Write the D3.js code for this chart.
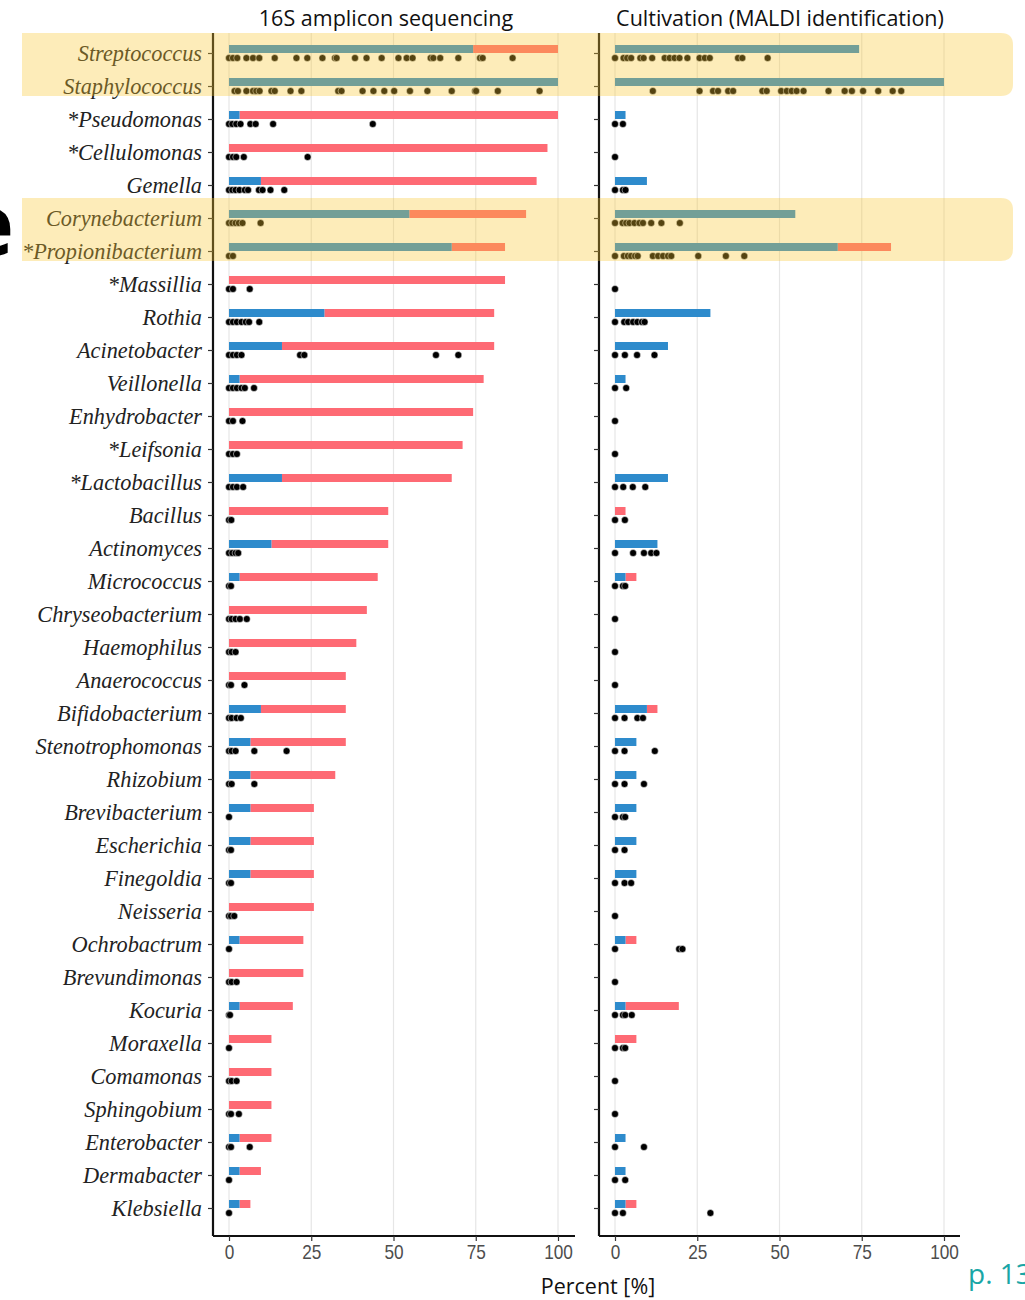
<!DOCTYPE html>
<html><head><meta charset="utf-8">
<script src="https://cdn.jsdelivr.net/npm/d3@7"></script>
<style>body{margin:0;background:#fff;} svg{display:block;}</style>
</head><body>
<script>
const categories = ["Streptococcus","Staphylococcus","*Pseudomonas","*Cellulomonas","Gemella","Corynebacterium","*Propionibacterium","*Massillia","Rothia","Acinetobacter","Veillonella","Enhydrobacter","*Leifsonia","*Lactobacillus","Bacillus","Actinomyces","Micrococcus","Chryseobacterium","Haemophilus","Anaerococcus","Bifidobacterium","Stenotrophomonas","Rhizobium","Brevibacterium","Escherichia","Finegoldia","Neisseria","Ochrobactrum","Brevundimonas","Kocuria","Moraxella","Comamonas","Sphingobium","Enterobacter","Dermabacter","Klebsiella"];
// shared detection (blue) and total detection per method, percent of samples
const bothPct   = [74.2,100,3.2,0,9.7,54.8,67.7,0,29.0,16.1,3.2,0,0,16.1,0,12.9,3.2,0,0,0,9.7,6.5,6.5,6.5,6.5,6.5,0,3.2,0,3.2,0,0,0,3.2,3.2,3.2];
const seqTotal  = [100,100,100,96.8,93.5,90.3,83.9,83.9,80.6,80.6,77.4,74.2,71.0,67.7,48.4,48.4,45.2,41.9,38.7,35.5,35.5,35.5,32.3,25.8,25.8,25.8,25.8,22.6,22.6,19.4,12.9,12.9,12.9,12.9,9.7,6.5];
const cultTotal = [74.2,100,3.2,0,9.7,54.8,83.9,0,29.0,16.1,3.2,0,0,16.1,3.2,12.9,6.5,0,0,0,12.9,6.5,6.5,6.5,6.5,6.5,0,6.5,0,19.4,6.5,0,0,3.2,3.2,6.5];
const seqDots = [
 [0,1.2,2.5,5.3,7.3,9.2,13.9,20.5,23.8,28.4,32.2,32.7,38.3,41.8,46.4,51.5,54,55.8,61.3,62.1,64.2,69.7,76.3,77.1,86.2],
 [1.7,2.7,5.3,7.3,8.3,9.3,12.9,13.9,18.7,22,33.2,34.2,40.6,43.9,47.2,50.2,55,60.3,67.7,74.8,75.1,81.7,94.4],
 [0,1,2.2,3.5,6.5,8.1,13.4,43.7],
 [0,1.2,2.2,4.5,23.9],
 [0,1,2,3.2,4.8,5.8,9.1,10.2,12.6,16.8],
 [0,1,2,3,4.1,9.6],
 [0,1.2],
 [0,1.2,6.3],
 [0,1.2,2.4,3.8,5.1,6.1,9.2],
 [0,1.2,2.4,3.8,21.6,22.9,62.9,69.7],
 [0,1.2,2.4,3.8,4.8,7.6],
 [0,1.2,4.1],
 [0,1.2,2.4],
 [0,1.2,2.4,4.3],
 [0,0.7],
 [0,1,2,2.8],
 [0,0.6],
 [0,0.8,2,3.3,5.4],
 [0,0.8,2],
 [0,0.6,4.7],
 [0,0.8,2.3,3.6],
 [0,0.8,2,7.7,17.5],
 [0,0.8,7.7],
 [0],
 [0,0.6],
 [0,0.6],
 [0,0.6,1.6],
 [0],
 [0,0.8,2.3],
 [0,0.3],
 [0],
 [0,0.8,2.3],
 [0,0.6,3],
 [0,0.6,6.3],
 [0],
 [0]
];
const cultDots = [
 [0,2.6,3.7,4.9,7.7,8.7,11.3,15.1,16.6,18.1,19.6,22,25.7,27.3,28.8,37.4,38.7,46.4],
 [11.5,25.7,29.8,31.3,34.4,35.9,44.8,46.1,50.5,52.2,53.7,55.2,57.3,64.9,69.8,72,75.4,80,84.4,87],
 [0,2.4],
 [0],
 [0,2.4,3.2],
 [0,2.3,3.4,4.4,5.9,7.4,8.5,11,14.1,19.7],
 [0,2.7,3.9,4.9,6.1,6.9,11.5,13.1,14.6,16.1,17.1,25.3,33.7,39.3],
 [0],
 [0,2.8,4,5.5,6.8,8.2,9],
 [0,3,6.7,12],
 [0,3.4],
 [0],
 [0],
 [0,2.5,5.4,9.2],
 [0,3],
 [0,5.5,8.8,11,12.6],
 [0,2.4,3.1],
 [0],[0],[0],
 [0,2.9,6.8,8.5],
 [0,2.9,12.1],
 [0,2.9,8.8],
 [0,2.4,3.1],
 [0,2.9],
 [0,2.9,4.9],
 [0],
 [0,19.5,20.5],
 [0],
 [0,2.4,3.1,5.1],
 [0,2.4,3.1],
 [0],[0],
 [0,8.8],
 [0,3.1],
 [0,2.4,29]
];
const xTicks = [0,25,50,75,100];
const panelTitles = ["16S amplicon sequencing","Cultivation (MALDI identification)"];
const highlighted = [["Streptococcus","Staphylococcus"],["Corynebacterium","*Propionibacterium"]];

const W = 1025, H = 1300;
const svg = d3.select("body").append("svg").attr("width", W).attr("height", H);
const BLUE = "#2e8bcc", RED = "#fe6a74";

const y = d3.scalePoint().domain(categories).range([53, 1208]);
const panels = [
  {axisX: 213, right: 575, x: d3.scaleLinear([0,100],[229,558]), total: seqTotal, dots: seqDots, title: panelTitles[0], tx: 386, labels: true},
  {axisX: 599, right: 960, x: d3.scaleLinear([0,100],[615,944]), total: cultTotal, dots: cultDots, title: panelTitles[1], tx: 780, labels: false}
];
const plotTop = 33, plotBottom = 1236;

panels.forEach(p => {
  const g = svg.append("g");
  g.selectAll("line.grid").data(xTicks).join("line")
    .attr("x1", d => p.x(d)).attr("x2", d => p.x(d))
    .attr("y1", plotTop).attr("y2", plotBottom)
    .attr("stroke", "#e6e6e6").attr("stroke-width", 1.2);
  const rows = categories.map((c,i) => ({c, i, both: bothPct[i], total: p.total[i]}));
  g.selectAll("rect.red").data(rows.filter(r => r.total > r.both)).join("rect")
    .attr("x", r => p.x(r.both)).attr("width", r => p.x(r.total) - p.x(r.both))
    .attr("y", r => y(r.c) - 8).attr("height", 8).attr("fill", RED);
  g.selectAll("rect.blue").data(rows.filter(r => r.both > 0)).join("rect")
    .attr("x", p.x(0)).attr("width", r => p.x(r.both) - p.x(0))
    .attr("y", r => y(r.c) - 8).attr("height", 8).attr("fill", BLUE);
  const pts = [];
  p.dots.forEach((arr,i) => arr.forEach(v => pts.push({c: categories[i], v})));
  g.selectAll("circle").data(pts).join("circle")
    .attr("cx", d => p.x(d.v)).attr("cy", d => y(d.c) + 5).attr("r", 3.5)
    .attr("fill", "#000").attr("stroke", "#fff").attr("stroke-width", 0.5);
  const ya = g.append("g").attr("transform", `translate(${p.axisX},0)`)
    .call(d3.axisLeft(y).tickSize(5).tickPadding(6).tickFormat(p.labels ? (d => d) : (() => "")));
  ya.select(".domain").attr("d", `M0,${plotTop}V${plotBottom}`).attr("stroke", "#111").attr("stroke-width", 2.2);
  ya.selectAll(".tick line").attr("stroke", "#333").attr("stroke-width", 1.2);
  ya.selectAll(".tick text").attr("font-family", "'Liberation Serif','Times New Roman',serif")
    .attr("font-style", "italic").attr("font-size", 22.3).attr("fill", "#222");
  const xa = g.append("g").attr("transform", `translate(0,${plotBottom})`)
    .call(d3.axisBottom(p.x).tickValues(xTicks).tickSize(5).tickPadding(3));
  xa.select(".domain").attr("d", `M${p.axisX},0H${p.right}`).attr("stroke", "#111").attr("stroke-width", 2.2);
  xa.selectAll(".tick line").attr("stroke", "#333").attr("stroke-width", 1.2);
  xa.selectAll(".tick text").attr("font-family", "'Liberation Sans',Arial,sans-serif")
    .attr("font-size", 21).attr("fill", "#4d4d4d").attr("transform", "scale(0.82,1)");
  svg.append("text").attr("x", p.tx).attr("y", 26).attr("text-anchor", "middle")
    .attr("font-family", "'Open Sans','Noto Sans',sans-serif").attr("font-size", 21.5).attr("fill", "#111")
    .text(p.title);
});

svg.append("text").attr("x", 598).attr("y", 1294).attr("text-anchor", "middle")
  .attr("font-family", "'Open Sans','Noto Sans',sans-serif").attr("font-size", 21.5).attr("fill", "#111")
  .text("Percent [%]");

highlighted.forEach(pair => {
  const y0 = y(pair[0]) - 20, y1 = y(pair[1]) + 10, x0 = 22, x1 = 1013, r = 12;
  svg.append("path")
    .attr("d", `M${x0},${y0}H${x1-r}Q${x1},${y0} ${x1},${y0+r}V${y1-r}Q${x1},${y1} ${x1-r},${y1}H${x0}Z`)
    .attr("fill", "rgb(250,200,50)").attr("opacity", 0.34);
});

svg.append("text").attr("x", 14).attr("y", 255).attr("text-anchor", "end")
  .attr("font-family", "'Open Sans','Noto Sans',sans-serif").attr("font-weight", "bold")
  .attr("font-size", 84).attr("fill", "#000").text("e");
svg.append("text").attr("x", 968).attr("y", 1284)
  .attr("font-family", "'Open Sans','Noto Sans',sans-serif").attr("font-size", 28).attr("fill", "#1aa6a6")
  .text("p. 13");
</script>
</body></html>
